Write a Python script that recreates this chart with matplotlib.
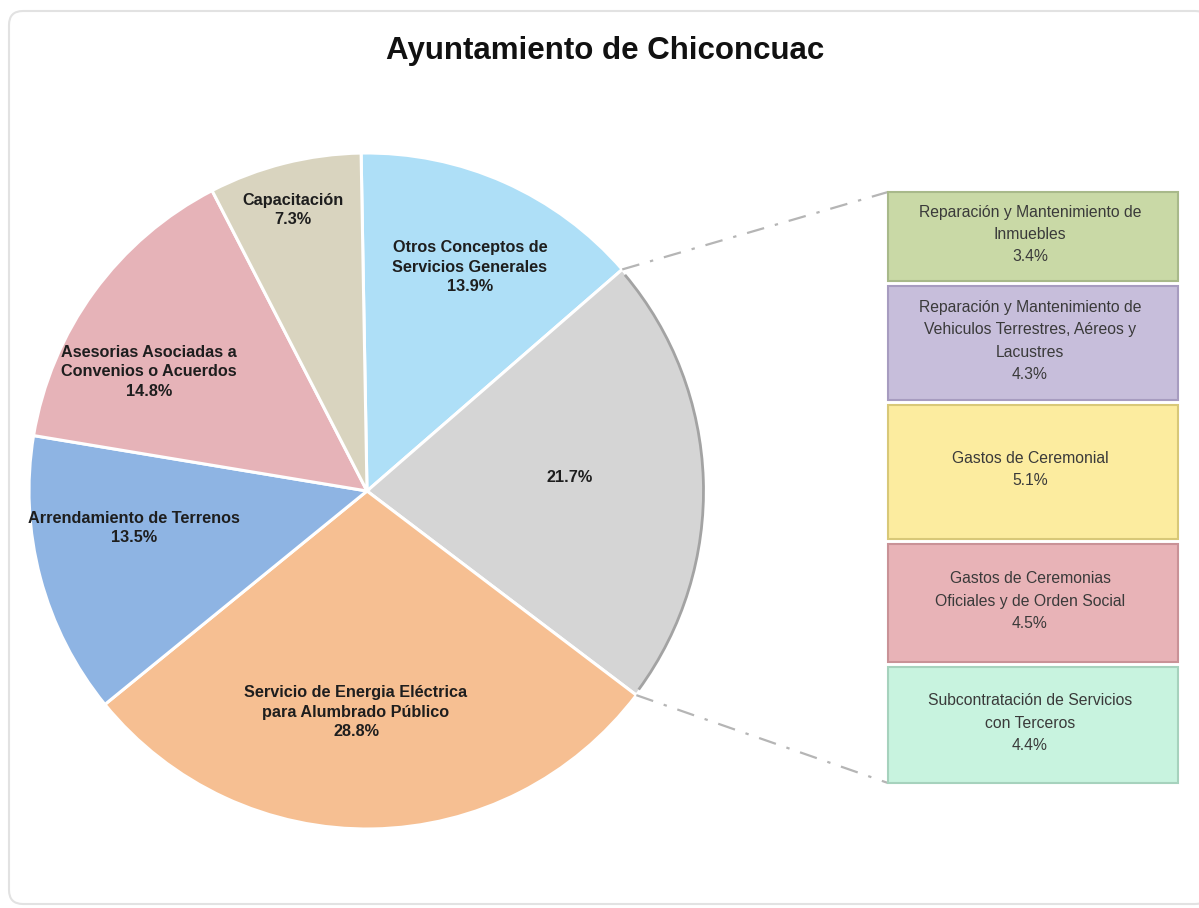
import matplotlib
matplotlib.use("Agg")
import matplotlib.pyplot as plt
import numpy as np
from matplotlib.patches import FancyBboxPatch, Arc

plt.rcParams['font.family'] = ['Liberation Sans', 'DejaVu Sans']

# ---------------- data ----------------
title = "Ayuntamiento de Chiconcuac"
pie_labels = ["Otros Conceptos de\nServicios Generales", "",
              "Servicio de Energia Eléctrica\npara Alumbrado Público",
              "Arrendamiento de Terrenos", "Asesorias Asociadas a\nConvenios o Acuerdos",
              "Capacitación"]
pie_values = [13.9, 21.7, 28.8, 13.5, 14.8, 7.3]
pie_colors = ["#aedff7", "#d5d5d5", "#f6bf92", "#8eb4e3", "#e6b3b8", "#d9d4bf"]

bar_labels = ["Reparación y Mantenimiento de\nInmuebles",
              "Reparación y Mantenimiento de\nVehiculos Terrestres, Aéreos y\nLacustres",
              "Gastos de Ceremonial",
              "Gastos de Ceremonias\nOficiales y de Orden Social",
              "Subcontratación de Servicios\ncon Terceros"]
bar_values = [3.4, 4.3, 5.1, 4.5, 4.4]
bar_colors = ["#c9d9a6", "#c7bedb", "#fcec9f", "#e8b3b7", "#c8f3df"]
bar_edges = ["#a8b98a", "#a79cc0", "#d8c878", "#c99297", "#a6d2bd"]

# ---------------- layout (pixels, y up) ----------------
W, H = 1199, 908
fig = plt.figure(figsize=(W / 100, H / 100), dpi=100)
ax = fig.add_axes([0, 0, 1, 1])

# outer rounded frame
frame = FancyBboxPatch((9, 4), 1200, 893, boxstyle="round,pad=0,rounding_size=14",
                       fc="white", ec="#e2e2e2", lw=1.5, zorder=0)
ax.add_patch(frame)

cx, cy, R = 367, H - 491, 338
wedges, _ = ax.pie(pie_values, colors=pie_colors, startangle=91, counterclock=False,
                   center=(cx, cy), radius=R,
                   wedgeprops=dict(edgecolor="white", linewidth=2.2), frame=True)
# darker rim on the "other" wedge arc
ax.add_patch(Arc((cx, cy), 2 * R - 3, 2 * R - 3, theta1=wedges[1].theta1 + 1,
                 theta2=wedges[1].theta2 - 1, color="#a3a3a3", lw=2, zorder=4))

label_px = [(470, 267), (570, 477), (356, 712), (134, 528), (149, 372), (293, 210)]
for lab, v, (px, py) in zip(pie_labels, pie_values, label_px):
    txt = (lab + "\n" if lab else "") + f"{v:.1f}%"
    ax.text(px, H - py, txt, ha="center", va="center", fontsize=11.7,
            fontweight="bold", color="#1e1e1e", linespacing=1.4, zorder=5)

# stacked boxes
bx_left, bx_w = 888, 290
top = H - 192
bottom_total = H - 783
gap = 5
scale = ((top - bottom_total) - gap * (len(bar_values) - 1)) / sum(bar_values)
cur = top
for lab, v, c, ec in zip(bar_labels, bar_values, bar_colors, bar_edges):
    h = v * scale
    ax.bar(bx_left + bx_w / 2, h, bottom=cur - h, width=bx_w, color=c,
           edgecolor=ec, linewidth=1.5, zorder=3)
    ax.text(bx_left + bx_w / 2 - 3, cur - h / 2 + 2, lab + "\n" + f"{v:.1f}%",
            ha="center", va="center", fontsize=11.3, color="#3a3a3a",
            linespacing=1.6, zorder=5)
    cur = cur - h - gap

# connector lines from the "other" wedge to the boxes
th1, th2 = np.deg2rad(wedges[1].theta1), np.deg2rad(wedges[1].theta2)
p_top = (cx + R * np.cos(th2), cy + R * np.sin(th2))
p_bot = (cx + R * np.cos(th1), cy + R * np.sin(th1))
for p, q in [(p_top, (bx_left, top)), (p_bot, (bx_left, bottom_total))]:
    ax.plot([p[0], q[0]], [p[1], q[1]], color="#b5b5b5", lw=1.6,
            linestyle=(0, (8, 5, 1.5, 5)), zorder=2)

ax.text(605, H - 51, title, ha="center", va="center", fontsize=22.5,
        fontweight="bold", color="#111111")

ax.set_xlim(0, W)
ax.set_ylim(0, H)
ax.set_aspect("equal")
ax.axis("off")
fig.savefig("out.png", dpi=100)
